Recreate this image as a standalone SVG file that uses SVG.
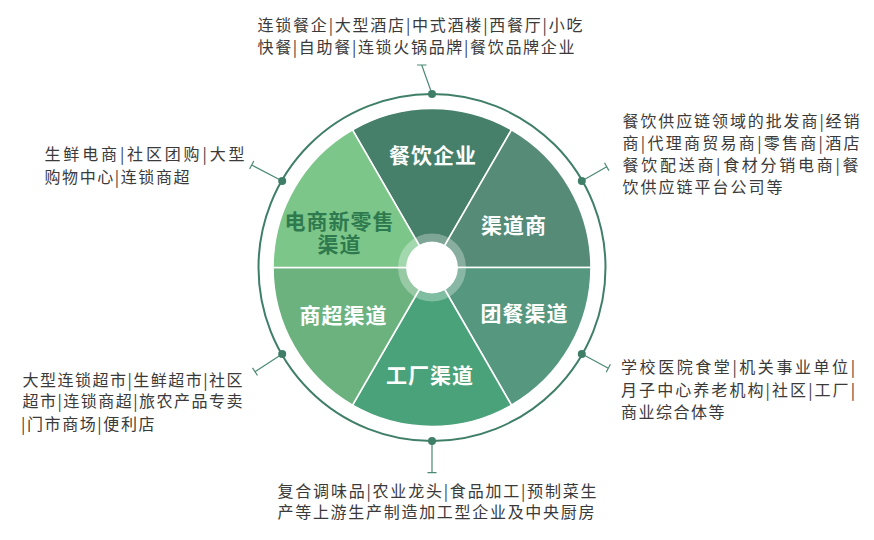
<svg xmlns="http://www.w3.org/2000/svg" width="874" height="540" viewBox="0 0 874 540">
<style>
.sl{stroke:#fff;stroke-width:1.6}
.lb{font-family:"Noto Sans CJK SC","Noto Sans",sans-serif;font-size:21px;font-weight:700;fill:#fff;text-anchor:middle;letter-spacing:1px}
.tx{font-family:"Noto Sans CJK SC","Noto Sans",sans-serif;font-size:16px;fill:#3a3a3a}
.ld{stroke:#4a8a72;stroke-width:1.2;fill:none}
.dot{fill:#3f7f67}
</style>
<rect width="874" height="540" fill="#fff"/>
<g id="ring">
<circle cx="432" cy="267.5" r="173.5" fill="none" stroke="#3f7f67" stroke-width="2"/>
</g>
<g id="n-canyin">
<path class="sl" fill="#46806a" d="M432 267.5 L352.5 129.8 A159 159 0 0 1 511.5 129.8 Z"/>
<text class="lb" x="433" y="163">餐饮企业</text>
</g>
<g id="n-qudaoshang">
<path class="sl" fill="#558b77" d="M432 267.5 L511.5 129.8 A159 159 0 0 1 591 267.5 Z"/>
<text class="lb" x="514" y="233">渠道商</text>
</g>
<g id="n-tuancan">
<path class="sl" fill="#55987f" d="M432 267.5 L591 267.5 A159 159 0 0 1 511.5 405.2 Z"/>
<text class="lb" x="524.5" y="321">团餐渠道</text>
</g>
<g id="n-gongchang">
<path class="sl" fill="#4aa27a" d="M432 267.5 L511.5 405.2 A159 159 0 0 1 352.5 405.2 Z"/>
<text class="lb" x="430" y="382.5">工厂渠道</text>
</g>
<g id="n-shangchao">
<path class="sl" fill="#6cb27f" d="M432 267.5 L352.5 405.2 A159 159 0 0 1 273 267.5 Z"/>
<text class="lb" x="343.5" y="323">商超渠道</text>
</g>
<g id="n-dianshang">
<path class="sl" fill="#7cc68a" d="M432 267.5 L273 267.5 A159 159 0 0 1 352.5 129.8 Z"/>
<text class="lb" style="fill:#2e7a4e"><tspan x="339.5" y="228.5">电商新零售</tspan><tspan x="339.5" y="251.5">渠道</tspan></text>
</g>
<g id="hub">
<circle cx="432" cy="267.5" r="30" fill="none" stroke="#fff" stroke-opacity="0.3" stroke-width="8"/>
<circle cx="432" cy="267.5" r="26" fill="#fff"/>
</g>
<g id="connectors">
<path class="ld" d="M432 94 L421.7 65 M417 65 H426.5"/>
<path class="ld" d="M581.8 181 L606.7 166.7 M604.5 162.8 L608.9 170.6"/>
<path class="ld" d="M582 354 L608.3 368.3 M606.2 372.3 L610.4 364.3"/>
<path class="ld" d="M432 441 V472.7 M427.5 472.7 H436.5"/>
<path class="ld" d="M282.2 354 L255 371.7 M257.5 375.5 L252.5 367.9"/>
<path class="ld" d="M282.2 181 L251.7 165 M253.8 161 L249.6 169"/>
<circle class="dot" cx="432" cy="94" r="4"/>
<circle class="dot" cx="581.8" cy="181" r="4"/>
<circle class="dot" cx="581.8" cy="354" r="4"/>
<circle class="dot" cx="432" cy="441" r="4"/>
<circle class="dot" cx="282.2" cy="354" r="4"/>
<circle class="dot" cx="282.2" cy="181" r="4"/>
</g>
<g id="t-top">
<text class="tx"><tspan x="257.5" y="31" textLength="325" lengthAdjust="spacing">连锁餐企|大型酒店|中式酒楼|西餐厅|小吃</tspan><tspan x="257.5" y="53" textLength="317" lengthAdjust="spacing">快餐|自助餐|连锁火锅品牌|餐饮品牌企业</tspan></text>
</g>
<g id="t-ur">
<text class="tx"><tspan x="622.5" y="127" textLength="237" lengthAdjust="spacing">餐饮供应链领域的批发商|经销</tspan><tspan x="622.5" y="149" textLength="237" lengthAdjust="spacing">商|代理商贸易商|零售商|酒店</tspan><tspan x="622.5" y="171" textLength="236" lengthAdjust="spacing">餐饮配送商|食材分销电商|餐</tspan><tspan x="622.5" y="193" textLength="160" lengthAdjust="spacing">饮供应链平台公司等</tspan></text>
</g>
<g id="t-ul">
<text class="tx"><tspan x="44.5" y="159.5" textLength="200" lengthAdjust="spacing">生鲜电商|社区团购|大型</tspan><tspan x="44.5" y="183" textLength="145" lengthAdjust="spacing">购物中心|连锁商超</tspan></text>
</g>
<g id="t-ll">
<text class="tx"><tspan x="22.5" y="385.5" textLength="220" lengthAdjust="spacing">大型连锁超市|生鲜超市|社区</tspan><tspan x="22.5" y="407" textLength="220" lengthAdjust="spacing">超市|连锁商超|旅农产品专卖</tspan><tspan x="21" y="429.5" textLength="133.5" lengthAdjust="spacing">|门市商场|便利店</tspan></text>
</g>
<g id="t-lr">
<text class="tx"><tspan x="621" y="373" textLength="234" lengthAdjust="spacing">学校医院食堂|机关事业单位|</tspan><tspan x="621" y="395.5" textLength="234" lengthAdjust="spacing">月子中心养老机构|社区|工厂|</tspan><tspan x="621" y="418" textLength="103.5" lengthAdjust="spacing">商业综合体等</tspan></text>
</g>
<g id="t-bottom">
<text class="tx"><tspan x="277.5" y="497" textLength="319" lengthAdjust="spacing">复合调味品|农业龙头|食品加工|预制菜生</tspan><tspan x="277.5" y="518" textLength="317" lengthAdjust="spacing">产等上游生产制造加工型企业及中央厨房</tspan></text>
</g>
</svg>
